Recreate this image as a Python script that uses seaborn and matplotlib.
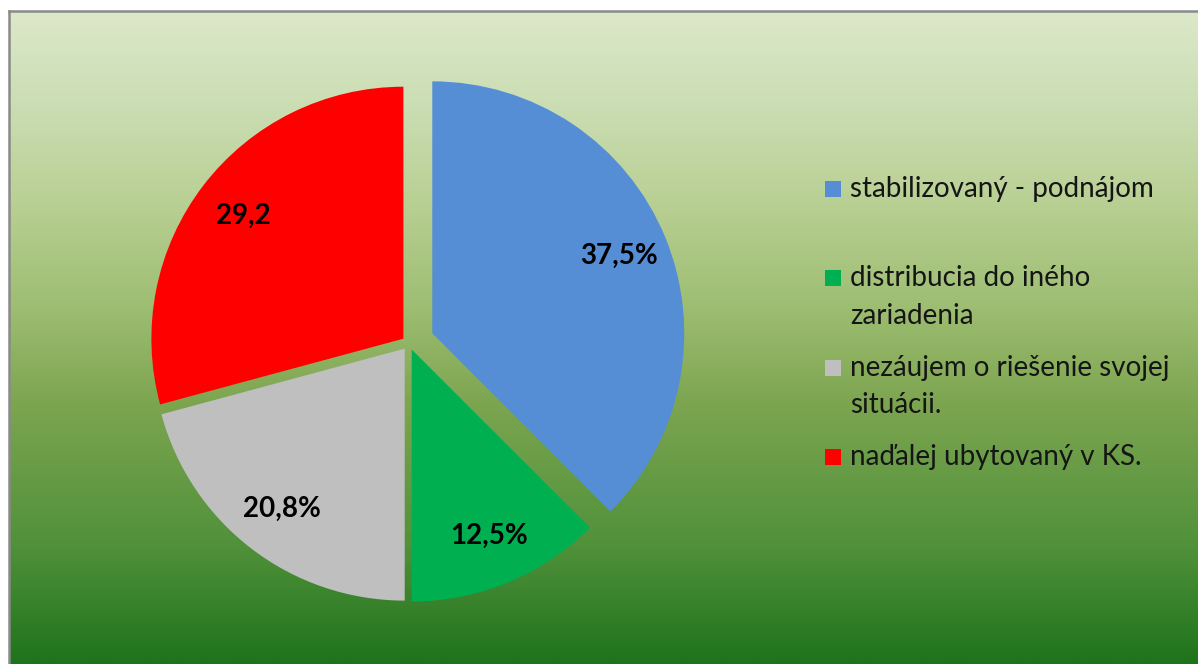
import numpy as np
import matplotlib
matplotlib.use("Agg")
import matplotlib.pyplot as plt
from matplotlib.patches import Rectangle
import seaborn as sns

# Data
categories = [
    "stabilizovaný - podnájom",
    "distribucia do iného\nzariadenia",
    "nezáujem o riešenie svojej\nsituácii.",
    "naďalej ubytovaný v KS.",
]
shares = [37.5, 12.5, 20.8, 29.2]
share_labels = ["37,5%", "12,5%", "20,8%", "29,2"]
explode = [0.1, 0.028, 0.028, 0.028]
slice_colors = ["#558ED5", "#00B050", "#BFBFBF", "#FF0000"]

sns.set_style("white")
plt.rcParams["font.family"] = ["Lato", "DejaVu Sans"]
palette = sns.color_palette(slice_colors)

W, H = 1198, 664
fig = plt.figure(figsize=(W / 100, H / 100), dpi=100)
fig.patch.set_facecolor("white")

# -------------------------------
# Background gradient + frame
# -------------------------------
stops = [0.0, 0.15, 0.29, 0.45, 0.6, 0.82, 1.0]
stop_cols = np.array([
    (220, 232, 202), (202, 221, 178), (185, 208, 148), (158, 190, 115),
    (125, 165, 80), (80, 145, 58), (30, 115, 28)]) / 255.0
t = np.linspace(0, 1, 400)
grad = np.stack([np.interp(t, stops, stop_cols[:, k]) for k in range(3)], axis=-1)
grad = grad[:, None, :]

bg = fig.add_axes([9 / W, 0, 1 - 9 / W, 1 - 11 / H])
bg.imshow(grad, aspect="auto", extent=[0, 1, 0, 1], interpolation="bilinear")
bg.set_xticks([])
bg.set_yticks([])
for side in ["right", "bottom"]:
    bg.spines[side].set_visible(False)
for side in ["left", "top"]:
    bg.spines[side].set_color("#8a8a8a")
    bg.spines[side].set_linewidth(1.8)

# -------------------------------
# Pie
# -------------------------------
R = 252
cx, cy = 409, H - 343
ax = fig.add_axes([(cx - 1.2 * R) / W, (cy - 1.2 * R) / H, 2.4 * R / W, 2.4 * R / H])
wedges, _, autotexts = ax.pie(
    shares,
    colors=palette,
    explode=explode,
    startangle=90,
    counterclock=False,
    autopct=lambda p: "",
    pctdistance=0.8,
    wedgeprops=dict(linewidth=0),
    textprops=dict(fontsize=20, fontweight="bold", color="black"),
)
for txt, s in zip(autotexts, share_labels):
    txt.set_text(s)
ax.set_xlim(-1.2, 1.2)
ax.set_ylim(-1.2, 1.2)
ax.set_aspect("equal")
ax.patch.set_visible(False)

# -------------------------------
# Legend (Excel style, marker on first line)
# -------------------------------
lg = fig.add_axes([0, 0, 1, 1])
lg.set_xlim(0, W)
lg.set_ylim(H, 0)
lg.axis("off")

base = 197
entry_step = 89.5
line_step = 37
for i, (label, col) in enumerate(zip(categories, palette)):
    y = base + i * entry_step
    lg.add_patch(Rectangle((825, y - 16.5), 16, 16, color=col, linewidth=0))
    for j, line in enumerate(label.split("\n")):
        lg.text(850, y + j * line_step, line, fontsize=20, color="#151515",
                va="baseline", ha="left")

plt.savefig("out.png", dpi=100)
